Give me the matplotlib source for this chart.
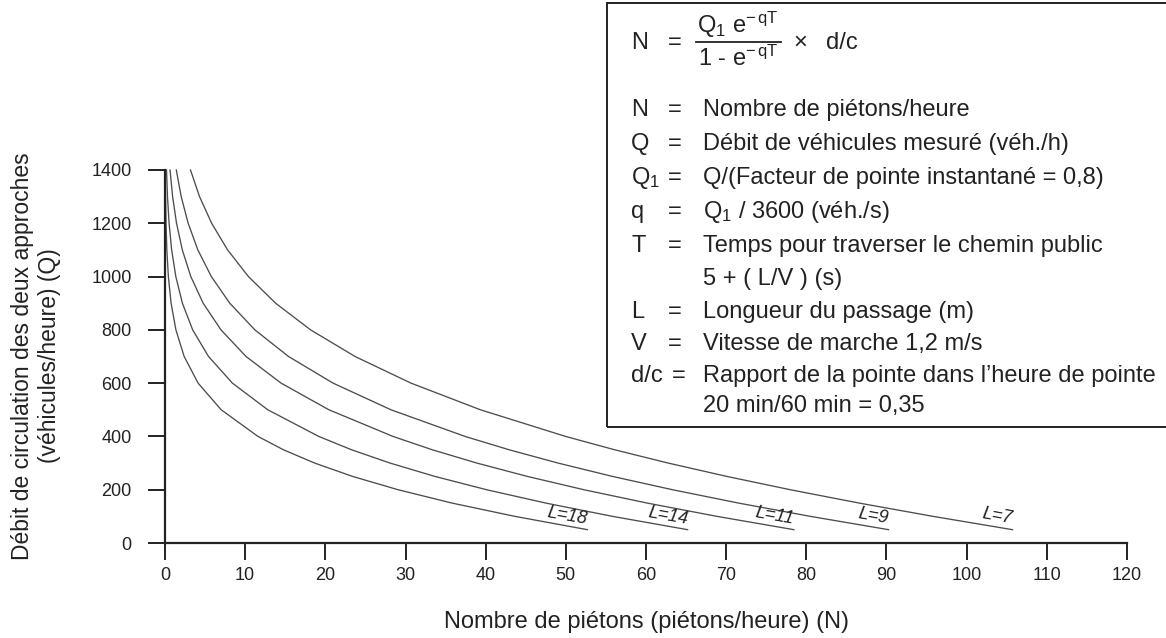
import matplotlib
matplotlib.use('Agg')
import matplotlib.pyplot as plt
from matplotlib.patches import Rectangle
from matplotlib.lines import Line2D

plt.rcParams['font.family'] = ['Liberation Sans', 'DejaVu Sans']
plt.rcParams['mathtext.fontset'] = 'custom'
plt.rcParams['mathtext.rm'] = 'Liberation Sans'
plt.rcParams['mathtext.it'] = 'Liberation Sans:italic'

# ---- data ----
Q = [50, 100, 150, 200, 250, 300, 350, 400, 500, 600, 700, 800, 900,
     1000, 1100, 1200, 1300, 1400]
N_L7 = [105.72, 95.80, 86.57, 77.99, 70.07, 62.77, 56.08, 49.97, 39.35, 30.69,
        23.71, 18.16, 13.80, 10.41, 7.81, 5.82, 4.31, 3.18]
N_L9 = [90.26, 80.50, 71.52, 63.30, 55.81, 49.03, 42.92, 37.43, 28.19, 20.97,
        15.41, 11.21, 8.08, 5.78, 4.10, 2.89, 2.02, 1.41]
N_L11 = [78.45, 68.85, 60.13, 52.25, 45.19, 38.90, 33.33, 28.44, 20.45, 14.48,
         10.11, 6.98, 4.76, 3.22, 2.16, 1.44, 0.95, 0.63]
N_L14 = [65.19, 55.82, 47.48, 40.11, 33.66, 28.07, 23.27, 19.18, 12.82, 8.41,
         5.43, 3.45, 2.17, 1.35, 0.83, 0.51, 0.31, 0.19]
N_L18 = [52.69, 43.64, 35.78, 29.07, 23.39, 18.67, 14.77, 11.60, 7.01, 4.13,
         2.39, 1.36, 0.76, 0.42, 0.23, 0.13, 0.07, 0.04]
curve_labels = ['L=18', 'L=14', 'L=11', 'L=9', 'L=7']
curves = [N_L18, N_L14, N_L11, N_L9, N_L7]

x_ticks = list(range(0, 121, 10))
y_ticks = list(range(0, 1401, 200))

W, H = 1166, 638
def fx(px):
    return px / W
def fy(py):
    return 1 - py / H

fig = plt.figure(figsize=(W / 100, H / 100), dpi=100)
ax = fig.add_axes([fx(165), fy(543), (1127 - 165) / W, (543 - 170) / H])

line_color = '#4d4d4d'
for n_vals, lab in zip(curves, curve_labels):
    ax.plot(n_vals, Q, color=line_color, lw=0.95, clip_on=False)
    ax.annotate(lab, xy=(n_vals[0], Q[0]), xytext=(-1, 1.5),
                textcoords='offset points', ha='right', va='bottom',
                rotation=-10, rotation_mode='anchor', fontsize=13,
                fontstyle='italic', color='#222222')

ax.set_xlim(0, 120)
ax.set_ylim(0, 1400)
ax.set_xticks(x_ticks)
ax.set_yticks(y_ticks)
for s in ['top', 'right']:
    ax.spines[s].set_visible(False)
for s in ['left', 'bottom']:
    ax.spines[s].set_linewidth(1.6)
    ax.spines[s].set_color('#222222')
ax.tick_params(axis='both', direction='out', length=12, width=1.4,
               colors='#222222', labelsize=13)
ax.tick_params(axis='y', pad=12)
ax.tick_params(axis='x', pad=5)

# axis titles
fig.text(fx(646), fy(622), 'Nombre de piétons (piétons/heure) (N)',
         ha='center', va='center', fontsize=17, color='#222222')
fig.text(fx(36), fy(356), 'Débit de circulation des deux approches\n(véhicules/heure) (Q)',
         rotation=90, ha='center', va='center', multialignment='center',
         fontsize=16.5, linespacing=1.2, color='#222222')

# legend box
box = Rectangle((fx(607), fy(427)), 1.0, fy(3) - fy(427),
                transform=fig.transFigure, fill=False, edgecolor='#222222',
                lw=1.4, clip_on=False)
fig.patches.append(box)

fs = 17
tc = '#222222'
c1, ceq, ctx = 631, 675, 703
# formula
fig.text(fx(c1), fy(43), 'N', ha='left', va='center', fontsize=fs, color=tc)
fig.text(fx(ceq), fy(43), '=', ha='center', va='center', fontsize=fs, color=tc)
fig.text(fx(738), fy(25), r'$\mathregular{Q_1\ e^{-\,qT}}$', ha='center',
         va='center', fontsize=fs, color=tc)
fig.text(fx(738), fy(58), '1 - e$^{\\mathregular{-\\,qT}}$', ha='center',
         va='center', fontsize=fs, color=tc)
fig.lines.append(Line2D([fx(696), fx(781)], [fy(42), fy(42)],
                        transform=fig.transFigure, color=tc, lw=1.3))
fig.text(fx(800), fy(43), '×', ha='center', va='center', fontsize=fs, color=tc)
fig.text(fx(826), fy(43), 'd/c', ha='left', va='center', fontsize=fs, color=tc)

rows = [
    (110, 'N', '=', 'Nombre de piétons/heure'),
    (144, 'Q', '=', 'Débit de véhicules mesuré (véh./h)'),
    (178, r'$\mathregular{Q_1}$', '=', 'Q/(Facteur de pointe instantané = 0,8)'),
    (212, 'q', '=', r'$\mathregular{Q_1}$ / 3600 (véh./s)'),
    (246, 'T', '=', 'Temps pour traverser le chemin public'),
    (279, None, None, '5 + ( L/V ) (s)'),
    (312, 'L', '=', 'Longueur du passage (m)'),
    (344, 'V', '=', 'Vitesse de marche 1,2 m/s'),
    (376, 'd/c', '=', 'Rapport de la pointe dans l’heure de pointe'),
    (406, None, None, '20 min/60 min = 0,35'),
]
for y, sym, eq, txt in rows:
    if sym is not None:
        fig.text(fx(c1), fy(y), sym, ha='left', va='center', fontsize=fs, color=tc)
    if eq is not None:
        xe = ceq + 4 if sym == 'd/c' else ceq
        fig.text(fx(xe), fy(y), eq, ha='center', va='center', fontsize=fs, color=tc)
    fig.text(fx(ctx), fy(y), txt, ha='left', va='center', fontsize=fs, color=tc)

fig.savefig('out.png', dpi=100, facecolor='white')
